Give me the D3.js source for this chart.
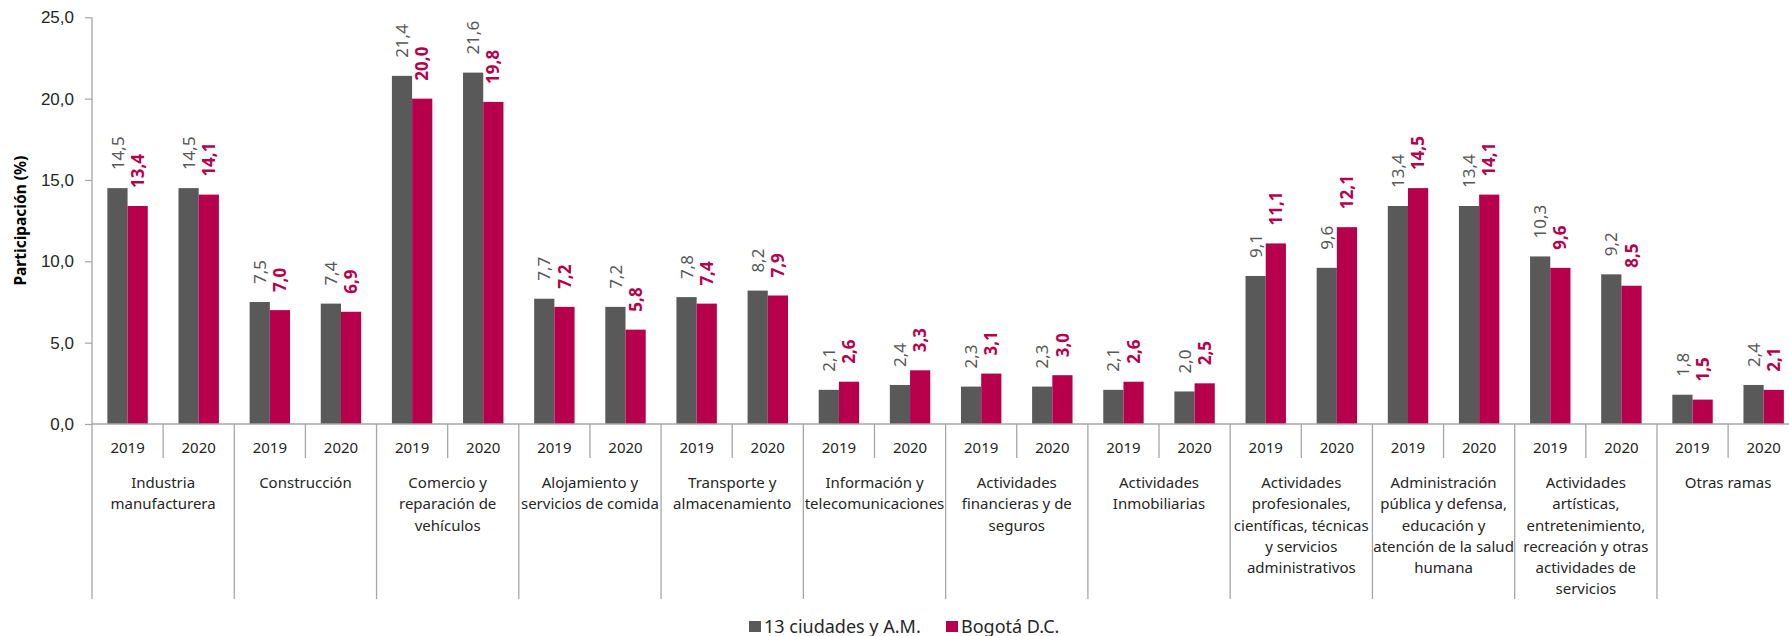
<!DOCTYPE html>
<html>
<head>
<meta charset="utf-8">
<script src="https://cdn.jsdelivr.net/npm/d3@7"></script>
<style>
  body { margin: 0; background: #fff; }
  svg { display: block; font-family: "Noto Sans", "Open Sans", sans-serif; }
</style>
</head>
<body>
<div id="chart"></div>
<script>
var width = 1789,
    height = 636;

// data
var categories = [
  ["Industria", "manufacturera"],
  ["Construcción"],
  ["Comercio y", "reparación de", "vehículos"],
  ["Alojamiento y", "servicios de comida"],
  ["Transporte y", "almacenamiento"],
  ["Información y", "telecomunicaciones"],
  ["Actividades", "financieras y de", "seguros"],
  ["Actividades", "Inmobiliarias"],
  ["Actividades", "profesionales,", "científicas, técnicas", "y servicios", "administrativos"],
  ["Administración", "pública y defensa,", "educación y", "atención de la salud", "humana"],
  ["Actividades", "artísticas,", "entretenimiento,", "recreación y otras", "actividades de", "servicios"],
  ["Otras ramas"]
];
var years = ["2019", "2020"];
var seriesNames = ["13 ciudades y A.M.", "Bogotá D.C."];
// [2019, 2020] per category
var ciudades = [[14.5, 14.5], [7.5, 7.4], [21.4, 21.6], [7.7, 7.2], [7.8, 8.2], [2.1, 2.4],
                [2.3, 2.3], [2.1, 2.0], [9.1, 9.6], [13.4, 13.4], [10.3, 9.2], [1.8, 2.4]];
var bogota = [[13.4, 14.1], [7.0, 6.9], [20.0, 19.8], [7.2, 5.8], [7.4, 7.9], [2.6, 3.3],
              [3.1, 3.0], [2.6, 2.5], [11.1, 12.1], [14.5, 14.1], [9.6, 8.5], [1.5, 2.1]];
var yTicks = [0, 5, 10, 15, 20, 25];

var colors = ["#595959", "#b7004b"];
var axisColor = "#a6a6a6";
var textColor = "#262626";

var plotLeft = 92, catW = 142.27, plotTop = 17.3, base = 424;

var svg = d3.select("#chart")
      .append("svg")
      .attr("width", width)
      .attr("height", height);

var g = svg.append("g");

// scales
var x0 = d3.scaleBand().domain(d3.range(categories.length))
    .range([plotLeft, plotLeft + catW * categories.length]);
var x1 = d3.scaleBand().domain(years).range([0, x0.bandwidth()]);
var x2 = d3.scaleBand().domain([0, 1]).range([0, x1.bandwidth()]).paddingOuter(0.76);
var y = d3.scaleLinear().domain([0, 25]).range([base, plotTop]);

var fmt = function(v){ return d3.format(".1f")(v).replace(".", ","); };

// y axis
var yAxis = g.append("g")
    .attr("transform", "translate(" + plotLeft + ",0)")
    .call(d3.axisLeft(y).tickValues(yTicks).tickSize(7).tickPadding(11).tickFormat(fmt));
yAxis.select(".domain").remove();
yAxis.selectAll(".tick line").attr("stroke", axisColor).attr("stroke-width", 1.2);
yAxis.selectAll(".tick text")
    .style("font-size", "17px")
    .style("fill", textColor)
    .style("font-family", "inherit");

g.append("line")
  .attr("x1", plotLeft).attr("x2", plotLeft)
  .attr("y1", plotTop).attr("y2", 599)
  .attr("stroke", axisColor).attr("stroke-width", 1.3);

g.append("text")
  .attr("transform", "translate(21," + ((plotTop + base) / 2) + ") rotate(-90)")
  .attr("text-anchor", "middle")
  .attr("dy", "0.35em")
  .style("font-size", "15.5px")
  .style("font-weight", "bold")
  .style("fill", "#000")
  .text("Participación (%)");

// bars
var rows = [];
categories.forEach(function(c, i){
  years.forEach(function(yr, j){
    rows.push({cat: i, year: yr, vals: [ciudades[i][j], bogota[i][j]]});
  });
});

var groups = g.selectAll(".grp")
    .data(rows)
    .enter().append("g")
    .attr("class", "grp")
    .attr("transform", function(d){ return "translate(" + (x0(d.cat) + x1(d.year)) + ",0)"; });

groups.selectAll("rect")
    .data(function(d){ return d.vals; })
    .enter().append("rect")
    .attr("x", function(d, k){ return x2(k); })
    .attr("y", function(d){ return y(d); })
    .attr("width", x2.bandwidth())
    .attr("height", function(d){ return base - y(d); })
    .attr("fill", function(d, k){ return colors[k]; });

groups.selectAll(".val")
    .data(function(d){ return d.vals; })
    .enter().append("text")
    .attr("class", "val")
    .attr("transform", function(d, k){
      return "translate(" + (x2(k) + x2.bandwidth() / 2) + "," + (y(d) - 18) + ") rotate(-90)";
    })
    .attr("dy", "0.36em")
    .attr("text-anchor", "start")
    .style("font-size", "17px")
    .style("font-weight", function(d, k){ return k === 1 ? "bold" : "normal"; })
    .style("fill", function(d, k){ return colors[k]; })
    .text(fmt);

// x axis line
g.append("line")
  .attr("x1", plotLeft).attr("x2", x0.range()[1])
  .attr("y1", base).attr("y2", base)
  .attr("stroke", axisColor).attr("stroke-width", 1.5);

// year labels and short dividers
groups.append("text")
    .attr("x", x1.bandwidth() / 2)
    .attr("y", 448)
    .attr("dy", "0.35em")
    .attr("text-anchor", "middle")
    .style("font-size", "15px")
    .style("fill", textColor)
    .text(function(d){ return d.year; });

categories.forEach(function(c, i){
  g.append("line")
    .attr("x1", x0(i) + x1("2020")).attr("x2", x0(i) + x1("2020"))
    .attr("y1", base).attr("y2", 458)
    .attr("stroke", axisColor).attr("stroke-width", 1.3);
  if (i > 0) {
    g.append("line")
      .attr("x1", x0(i)).attr("x2", x0(i))
      .attr("y1", base).attr("y2", 599)
      .attr("stroke", axisColor).attr("stroke-width", 1.3);
  }
  var t = g.append("text")
    .attr("text-anchor", "middle")
    .style("font-size", "15px")
    .style("fill", textColor);
  c.forEach(function(line, k){
    t.append("tspan")
      .attr("x", x0(i) + x0.bandwidth() / 2)
      .attr("y", 483 + k * 21.2)
      .attr("dy", "0.35em")
      .text(line);
  });
});

// legend
var legend = g.append("g").attr("transform", "translate(749,621)");
var legendX = [0, 197];
seriesNames.forEach(function(name, i){
  var row = legend.append("g").attr("transform", "translate(" + legendX[i] + ",0)");
  row.append("rect")
    .attr("width", 12).attr("height", 11)
    .attr("fill", colors[i]);
  row.append("text")
    .attr("x", 15).attr("y", 6)
    .attr("dy", "0.35em")
    .style("font-size", "18px")
    .style("fill", textColor)
    .text(name);
});
</script>
</body>
</html>
